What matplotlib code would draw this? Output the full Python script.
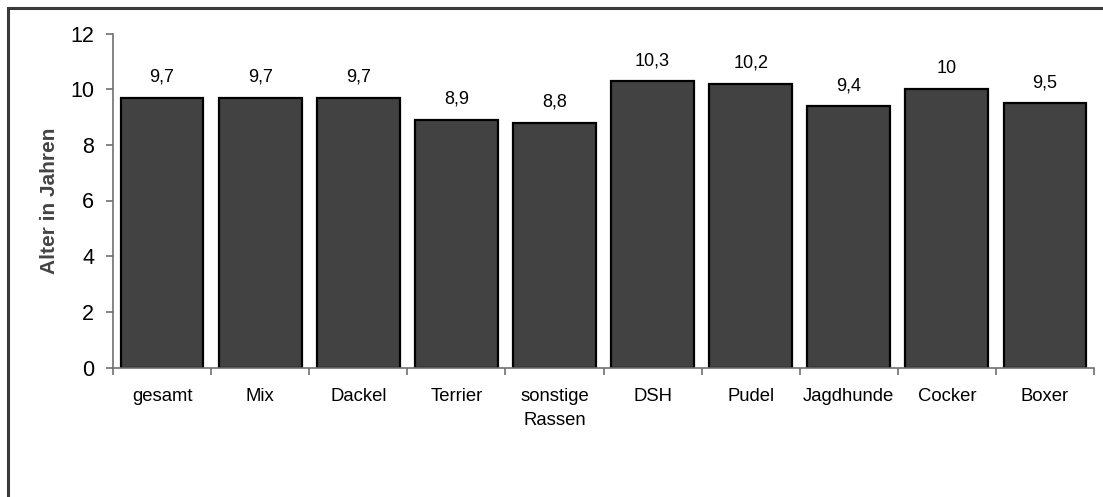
import matplotlib
matplotlib.use("Agg")
import matplotlib.pyplot as plt
from matplotlib.patches import Rectangle

categories = ["gesamt", "Mix", "Dackel", "Terrier", "sonstige\nRassen",
              "DSH", "Pudel", "Jagdhunde", "Cocker", "Boxer"]
ages = [9.7, 9.7, 9.7, 8.9, 8.8, 10.3, 10.2, 9.4, 10.0, 9.5]
yticks = [0, 2, 4, 6, 8, 10, 12]

plt.rcParams["font.family"] = ["Liberation Sans", "DejaVu Sans"]

W, H = 1103, 497
fig = plt.figure(figsize=(W / 100, H / 100), dpi=100)
ax = fig.add_axes([113 / W, 1 - 367.5 / H, (1094 - 113) / W, (367.5 - 33.5) / H])

# chart-area frame, running off the right and bottom edges
fig.patches.append(Rectangle((8 / W, -0.1), 1.2, 1 - 8 / H + 0.1,
                             transform=fig.transFigure, fill=False,
                             edgecolor="#3a3a3a", linewidth=2.2))

x = list(range(len(categories)))
ax.bar(x, ages, width=0.845, color="#424242", edgecolor="black", linewidth=1.6)

for xi, v in zip(x, ages):
    txt = f"{v:g}".replace(".", ",")
    ax.annotate(txt, (xi, v), xytext=(0, 8.5), textcoords="offset points",
                ha="center", va="bottom", fontsize=13)

ax.set_xlim(-0.5, len(categories) - 0.5)
ax.set_ylim(0, 12)
ax.set_yticks(yticks)
ax.set_yticklabels([str(t) for t in yticks], fontsize=15.5)

ax.set_xticks(x)
ax.set_xticklabels(categories, fontsize=13.3, va="top", linespacing=1.5)
ax.tick_params(axis="x", length=0, pad=15)
ax.set_xticks([i - 0.5 for i in range(len(categories) + 1)], minor=True)
ax.tick_params(axis="x", which="minor", length=5, color="#707070", width=1.2)
ax.tick_params(axis="y", length=5, color="#707070", width=1.2, pad=8.5)

for side in ("top", "right"):
    ax.spines[side].set_visible(False)
for side in ("left", "bottom"):
    ax.spines[side].set_color("#707070")
    ax.spines[side].set_linewidth(1.2)

ax.set_ylabel("Alter in Jahren", fontsize=15, fontweight="bold", color="#444444",
              labelpad=8)

fig.savefig("out.png", dpi=100)
